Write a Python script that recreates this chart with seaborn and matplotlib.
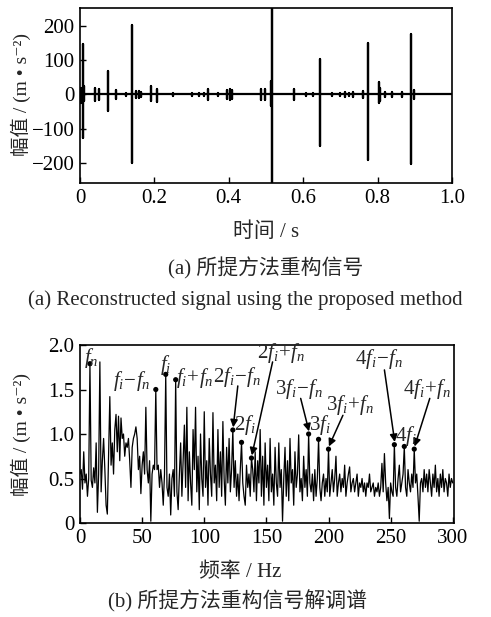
import numpy as np
import pandas as pd
import matplotlib
matplotlib.use("Agg")
import matplotlib.pyplot as plt
import seaborn as sns

# ---------------- data ----------------
# (a) reconstructed time signal: impulse bursts (time s, positive peak, negative peak)
burst_t = [0.004, 0.007, 0.010, 0.039, 0.052, 0.074, 0.096, 0.124, 0.139, 0.150,
           0.158, 0.165, 0.191, 0.206, 0.251, 0.300, 0.320, 0.332, 0.345, 0.372,
           0.395, 0.402, 0.408, 0.487, 0.498, 0.513, 0.516, 0.576, 0.608, 0.626,
           0.644, 0.677, 0.700, 0.712, 0.722, 0.735, 0.761, 0.774, 0.803, 0.807,
           0.821, 0.839, 0.865, 0.890, 0.897]
burst_up = [20, 148, 25, 20, 15, 68, 12, 5, 202, 10,
            10, 8, 25, 15, 4, 3, 3, 5, 15, 4,
            12, 15, 12, 15, 15, 40, 300, 15, 5, 5,
            102, 5, 5, 8, 5, 7, 10, 150, 37, 20,
            7, 8, 7, 175, 12]
burst_dn = [-25, -128, -20, -18, -15, -49, -12, -5, -201, -10,
            -10, -8, -20, -22, -4, -3, -3, -5, -15, -4,
            -12, -15, -12, -15, -15, -35, -300, -15, -5, -5,
            -150, -5, -5, -8, -5, -7, -10, -191, -25, -18,
            -7, -8, -7, -204, -12]

# (b) demodulation spectrum, 1 Hz bins 0..300 Hz
freq = list(range(0, 301))
amp = [
    0.55, 0.60, 0.38, 0.80, 0.45, 0.55, 0.30, 0.50, 1.79, 0.48,
    0.40, 0.62, 0.45, 0.90, 0.12, 0.55, 1.81, 0.35, 0.70, 0.95,
    0.60, 0.20, 0.10, 0.75, 1.42, 0.65, 0.90, 0.55, 1.05, 1.22,
    0.80, 1.20, 0.70, 1.18, 0.95, 1.00, 0.75, 0.90, 0.85, 0.95,
    0.70, 0.40, 0.85, 0.95, 1.00, 1.08, 0.95, 0.60, 0.75, 0.33,
    0.65, 0.80, 0.55, 1.30, 0.60, 0.45, 0.70, 0.02, 0.55, 0.65,
    0.60, 1.50, 0.60, 0.65, 0.40, 0.60, 0.45, 0.20, 0.55, 1.67,
    0.40, 0.30, 0.55, 0.09, 0.50, 0.60, 0.30, 1.61, 0.35, 0.15,
    0.55, 0.90, 0.30, 0.70, 1.10, 0.40, 1.30, 0.25, 0.80, 0.45,
    0.20, 1.05, 0.60, 1.30, 0.35, 0.75, 0.15, 1.00, 0.50, 0.30,
    1.25, 0.40, 0.70, 0.20, 0.95, 0.55, 0.30, 1.24, 0.45, 0.65,
    0.25, 1.05, 0.40, 0.80, 0.30, 1.14, 0.50, 0.20, 0.85, 0.45,
    0.95, 0.35, 0.60, 1.045, 0.40, 0.70, 0.30, 0.55, 0.25, 0.60,
    0.906, 0.45, 0.30, 0.20, 0.65, 0.40, 0.55, 0.30, 0.73, 0.60,
    0.35, 0.80, 0.25, 0.70, 0.45, 1.05, 0.30, 0.75, 0.20, 0.90,
    0.40, 0.65, 0.25, 0.95, 0.35, 0.55, 0.20, 0.85, 0.45, 0.30,
    0.90, 0.40, 0.60, 0.02, 0.50, 0.85, 0.30, 0.70, 0.25, 0.95,
    0.45, 0.60, 0.20, 0.80, 0.40, 0.55, 0.99, 0.35, 0.50, 0.25,
    0.75, 0.40, 0.60, 0.30, 1.00, 0.45, 0.35, 0.55, 0.25, 0.60,
    0.30, 0.50, 0.94, 0.40, 0.25, 0.45, 0.55, 0.30, 0.50, 0.35,
    0.83, 0.30, 0.45, 0.60, 0.35, 0.50, 0.75, 0.30, 0.45, 0.55,
    0.35, 0.50, 0.40, 0.65, 0.30, 0.45, 0.55, 0.63, 0.35, 0.45,
    0.50, 0.35, 0.45, 0.55, 0.30, 0.45, 0.40, 0.50, 0.35, 0.45,
    0.30, 0.45, 0.40, 0.55, 0.35, 0.40, 0.45, 0.30, 0.40, 0.35,
    0.45, 0.30, 0.40, 0.67, 0.35, 0.78, 0.45, 0.25, 0.40, 0.05,
    0.45, 0.35, 0.30, 0.88, 0.40, 0.30, 0.50, 0.65, 0.35, 0.45,
    0.55, 0.86, 0.40, 0.30, 0.60, 0.45, 0.35, 0.55, 0.40, 0.83,
    0.45, 0.55, 0.30, 0.02, 0.45, 0.50, 0.35, 0.60, 0.40, 0.55,
    0.35, 0.60, 0.45, 0.30, 0.55, 0.40, 0.65, 0.35, 0.50, 0.30,
    0.55, 0.40, 0.60, 0.35, 0.50, 0.45, 0.30, 0.55, 0.40, 0.50,
    0.45,
]

peak_freqs = [8, 61, 69, 77, 123, 130, 138, 184, 192, 200, 253, 261, 269]
peak_labels = [r'$f_n$', r'$f_i\!-\!f_n$', r'$f_i$', r'$f_i\!+\!f_n$',
               r'$2f_i\!-\!f_n$', r'$2f_i$', r'$2f_i\!+\!f_n$',
               r'$3f_i\!-\!f_n$', r'$3f_i$', r'$3f_i\!+\!f_n$',
               r'$4f_i\!-\!f_n$', r'$4f_i$', r'$4f_i\!+\!f_n$']

# ---------------- style ----------------
sns.set_theme(style="ticks")
SERIF = ['Liberation Serif', 'Noto Sans CJK SC', 'DejaVu Sans']
plt.rcParams['font.family'] = SERIF
plt.rcParams['mathtext.fontset'] = 'custom'
plt.rcParams['mathtext.rm'] = 'Liberation Serif'
plt.rcParams['mathtext.it'] = 'Liberation Serif:italic'
plt.rcParams['axes.unicode_minus'] = True

fig = plt.figure(figsize=(4.91, 6.17), dpi=100)
axa = fig.add_axes([80/491, 1-183/617, 372/491, 175/617])
axb = fig.add_axes([80/491, 1-523/617, 374/491, 178/617])

# ---- panel (a) ----
xs, ys = [0.0], [0.0]
for t, u, d in zip(burst_t, burst_up, burst_dn):
    xs += [t, t, t, t]
    ys += [0, u, d, 0]
xs.append(1.0); ys.append(0.0)
dfa = pd.DataFrame({'t': xs, 'v': ys})
sns.lineplot(data=dfa, x='t', y='v', sort=False, estimator=None, ax=axa,
             color='black', lw=1.6)
axa.set_xlim(0, 1.0)
axa.set_ylim(-258, 252)
axa.set_xticks([0, 0.2, 0.4, 0.6, 0.8, 1.0])
axa.set_xticklabels(['0', '0.2', '0.4', '0.6', '0.8', '1.0'])
axa.set_yticks([-200, -100, 0, 100, 200])
axa.set_xlabel('')
axa.set_ylabel('')

# ---- panel (b) ----
dfb = pd.DataFrame({'f': freq, 'a': amp})
sns.lineplot(data=dfb, x='f', y='a', estimator=None, ax=axb, color='black', lw=0.9)
pk = pd.DataFrame({'f': peak_freqs, 'a': [amp[f] for f in peak_freqs]})
sns.scatterplot(data=pk, x='f', y='a', ax=axb, color='black', s=14, edgecolor='none', zorder=5)
axb.set_xlim(0, 301)
axb.set_ylim(0, 2.0)
axb.set_xticks([0, 50, 100, 150, 200, 250, 300])
axb.set_yticks([0, 0.5, 1.0, 1.5, 2.0])
axb.set_yticklabels(['0', '0.5', '1.0', '1.5', '2.0'])
axb.set_xlabel('')
axb.set_ylabel('')

# annotations: (text x, text y, arrow?)
ann = [
    (8.8, 1.85, False), (41.4, 1.60, False), (69.0, 1.78, False), (92.5, 1.63, False),
    (126.0, 1.64, True), (133.0, 1.10, False), (161.7, 1.91, True),
    (176.0, 1.51, True), (193.5, 1.10, False), (217.0, 1.33, True),
    (240.5, 1.84, True), (262.5, 0.98, False), (279.0, 1.51, True),
]
arrow_from = {4: (127, 1.54), 6: (155, 1.81), 7: (177.6, 1.40), 9: (211.6, 1.21),
              10: (245, 1.72), 12: (281.5, 1.40)}
for i, (lab, (tx, ty, has_arrow)) in enumerate(zip(peak_labels, ann)):
    pf = peak_freqs[i]
    pv = amp[pf]
    axb.text(tx, ty, lab, ha='center', va='center', fontsize=15, zorder=6)
    if has_arrow:
        sx, sy = arrow_from[i]
        axb.annotate('', xy=(pf + 0.3, pv + 0.03), xytext=(sx, sy),
                     arrowprops=dict(arrowstyle='-|>', color='black', lw=1.1,
                                     mutation_scale=11, shrinkA=0, shrinkB=0))

for ax in (axa, axb):
    for s in ax.spines.values():
        s.set_visible(True)
        s.set_linewidth(1.2)
        s.set_color('black')
    ax.tick_params(direction='in', length=4, width=1, labelsize=15, colors='black',
                   top=False, right=False, pad=4)
    for lbl in ax.get_xticklabels() + ax.get_yticklabels():
        lbl.set_fontfamily(SERIF)

ylab = '幅值 / (m • s⁻²)'
fig.text(21/491, 1-95/617, ylab, rotation=90, ha='center', va='center', fontsize=14,
         family=SERIF)
fig.text(21/491, 1-434/617, ylab, rotation=90, ha='center', va='center', fontsize=14,
         family=SERIF)

fig.text(266/491, 1-232/617, '时间 / s', ha='center', va='center', fontsize=15, family=SERIF)
fig.text(266/491, 1-268/617, '(a) 所提方法重构信号', ha='center', va='center', fontsize=15, family=SERIF)
fig.text(245/491, 1-300/617, '(a) Reconstructed signal using the proposed method',
         ha='center', va='center', fontsize=15, family=SERIF)
fig.text(240/491, 1-572/617, '频率 / Hz', ha='center', va='center', fontsize=15, family=SERIF)
fig.text(238/491, 1-601/617, '(b) 所提方法重构信号解调谱', ha='center', va='center', fontsize=15, family=SERIF)

fig.savefig('out.png', dpi=100, facecolor='white')
